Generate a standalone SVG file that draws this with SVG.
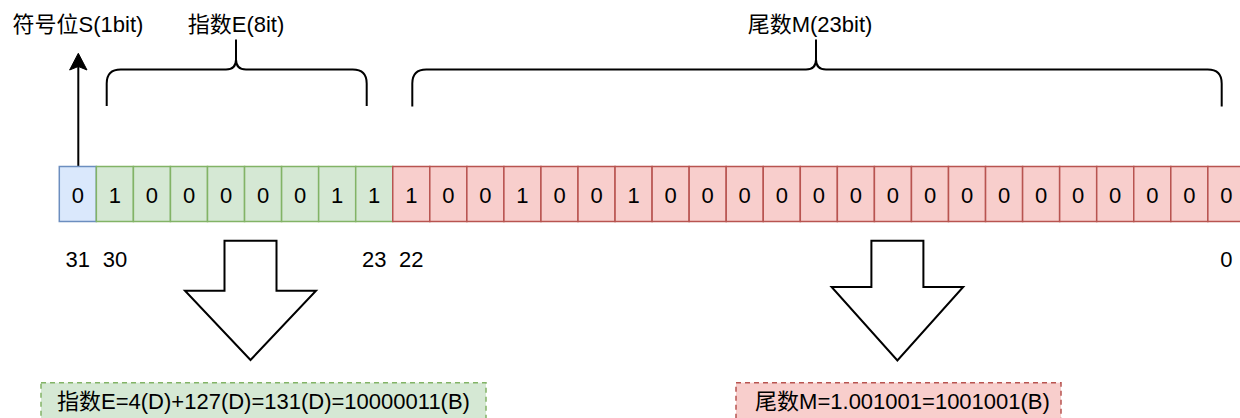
<svg xmlns="http://www.w3.org/2000/svg" width="1240" height="418" viewBox="0 0 1240 418">
<style>
text{font-family:"Liberation Sans","Noto Sans CJK SC",sans-serif;font-size:22px;fill:#000;text-anchor:middle}
.s{fill:#dae8fc;stroke:#6c8ebf;stroke-width:1.5}
.e{fill:#d5e8d4;stroke:#82b366;stroke-width:1.5}
.m{fill:#f8cecc;stroke:#b85450;stroke-width:1.5}
.br{fill:none;stroke:#000;stroke-width:2}
.big{fill:#fff;stroke:#000;stroke-width:2;stroke-linejoin:miter}
</style>
<rect width="1240" height="418" fill="#fff"/>
<g id="labels-top">
<text x="78" y="32">符号位S(1bit)</text>
<text x="236" y="32">指数E(8it)</text>
<text x="810" y="32">尾数M(23bit)</text>
</g>
<g id="connectors">
<line x1="78.3" y1="166" x2="78.3" y2="64" stroke="#000" stroke-width="2"/>
<path d="M78.3 53.3 L87 70 L78.3 66.5 L69.6 70 Z" fill="#000" stroke="#000" stroke-width="1"/>
</g>
<g id="brace-exponent">
<path class="br" d="M106.7 106 V83.5 Q106.7 69.5 120.7 69.5 H226 Q236 69.5 236 59.5 V39.5 M236 59.5 Q236 69.5 246 69.5 H352.7 Q366.7 69.5 366.7 83.5 V106"/>
</g>
<g id="brace-mantissa">
<path class="br" d="M412.3 106.5 V83.5 Q412.3 69.5 426.3 69.5 H806 Q816 69.5 816 59.5 V39.5 M816 59.5 Q816 69.5 826 69.5 H1207.7 Q1221.7 69.5 1221.7 83.5 V106.5"/>
</g>
<g id="cells">
<rect class="s" x="59.3" y="166.5" width="37.05" height="55"/>
<rect class="e" x="96.35" y="166.5" width="37.05" height="55"/>
<rect class="e" x="133.4" y="166.5" width="37.05" height="55"/>
<rect class="e" x="170.45" y="166.5" width="37.05" height="55"/>
<rect class="e" x="207.5" y="166.5" width="37.05" height="55"/>
<rect class="e" x="244.55" y="166.5" width="37.05" height="55"/>
<rect class="e" x="281.6" y="166.5" width="37.05" height="55"/>
<rect class="e" x="318.65" y="166.5" width="37.05" height="55"/>
<rect class="e" x="355.7" y="166.5" width="37.05" height="55"/>
<rect class="m" x="392.75" y="166.5" width="37.05" height="55"/>
<rect class="m" x="429.8" y="166.5" width="37.05" height="55"/>
<rect class="m" x="466.85" y="166.5" width="37.05" height="55"/>
<rect class="m" x="503.9" y="166.5" width="37.05" height="55"/>
<rect class="m" x="540.95" y="166.5" width="37.05" height="55"/>
<rect class="m" x="578" y="166.5" width="37.05" height="55"/>
<rect class="m" x="615.05" y="166.5" width="37.05" height="55"/>
<rect class="m" x="652.1" y="166.5" width="37.05" height="55"/>
<rect class="m" x="689.15" y="166.5" width="37.05" height="55"/>
<rect class="m" x="726.2" y="166.5" width="37.05" height="55"/>
<rect class="m" x="763.25" y="166.5" width="37.05" height="55"/>
<rect class="m" x="800.3" y="166.5" width="37.05" height="55"/>
<rect class="m" x="837.35" y="166.5" width="37.05" height="55"/>
<rect class="m" x="874.4" y="166.5" width="37.05" height="55"/>
<rect class="m" x="911.45" y="166.5" width="37.05" height="55"/>
<rect class="m" x="948.5" y="166.5" width="37.05" height="55"/>
<rect class="m" x="985.55" y="166.5" width="37.05" height="55"/>
<rect class="m" x="1022.6" y="166.5" width="37.05" height="55"/>
<rect class="m" x="1059.65" y="166.5" width="37.05" height="55"/>
<rect class="m" x="1096.7" y="166.5" width="37.05" height="55"/>
<rect class="m" x="1133.75" y="166.5" width="37.05" height="55"/>
<rect class="m" x="1170.8" y="166.5" width="37.05" height="55"/>
<rect class="m" x="1207.85" y="166.5" width="37.05" height="55"/>
<text x="77.8" y="202.5">0</text>
<text x="114.9" y="202.5">1</text>
<text x="151.9" y="202.5">0</text>
<text x="189" y="202.5">0</text>
<text x="226" y="202.5">0</text>
<text x="263.1" y="202.5">0</text>
<text x="300.1" y="202.5">0</text>
<text x="337.2" y="202.5">1</text>
<text x="374.2" y="202.5">1</text>
<text x="411.3" y="202.5">1</text>
<text x="448.3" y="202.5">0</text>
<text x="485.4" y="202.5">0</text>
<text x="522.4" y="202.5">1</text>
<text x="559.5" y="202.5">0</text>
<text x="596.5" y="202.5">0</text>
<text x="633.6" y="202.5">1</text>
<text x="670.6" y="202.5">0</text>
<text x="707.7" y="202.5">0</text>
<text x="744.7" y="202.5">0</text>
<text x="781.8" y="202.5">0</text>
<text x="818.8" y="202.5">0</text>
<text x="855.9" y="202.5">0</text>
<text x="892.9" y="202.5">0</text>
<text x="930" y="202.5">0</text>
<text x="967" y="202.5">0</text>
<text x="1004.1" y="202.5">0</text>
<text x="1041.1" y="202.5">0</text>
<text x="1078.2" y="202.5">0</text>
<text x="1115.2" y="202.5">0</text>
<text x="1152.3" y="202.5">0</text>
<text x="1189.3" y="202.5">0</text>
<text x="1226.4" y="202.5">0</text>
</g>
<g id="bit-indices">
<text x="77.8" y="267">31</text>
<text x="114.9" y="267">30</text>
<text x="374.2" y="267">23</text>
<text x="411.3" y="267">22</text>
<text x="1226.4" y="267">0</text>
</g>
<g id="arrow-exponent">
<path class="big" d="M224.5 240.7 H276.5 V290.7 H316 L250.5 360 L185 290.7 H224.5 Z"/>
</g>
<g id="arrow-mantissa">
<path class="big" d="M871.4 240.7 H923.4 V287 H963.2 L897.4 360.5 L831.6 287 H871.4 Z"/>
</g>
<g id="box-exponent">
<rect x="41" y="382.7" width="445" height="44" fill="#d5e8d4" stroke="#82b366" stroke-width="1.5" stroke-dasharray="5 4"/>
<text x="263.5" y="408.5">指数E=4(D)+127(D)=131(D)=10000011(B)</text>
</g>
<g id="box-mantissa">
<rect x="736" y="382.7" width="325" height="44" fill="#f8cecc" stroke="#b85450" stroke-width="1.5" stroke-dasharray="5 4"/>
<text x="902.5" y="408.5">尾数M=1.001001=1001001(B)</text>
</g>
</svg>
